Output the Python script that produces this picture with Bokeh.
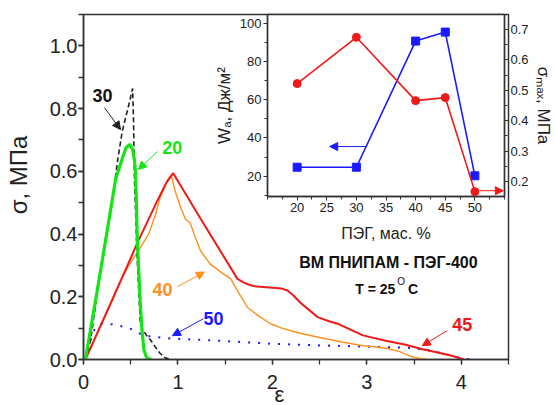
from bokeh.plotting import figure
from bokeh.models import (Range1d, LinearAxis, SingleIntervalTicker, FixedTicker, PrintfTickFormatter,
                          Label, Arrow, NormalHead, Column)
from bokeh.embed import file_html
from bokeh.resources import INLINE

FONT = "Liberation Sans"

# Stress-strain curves (strain, stress in MPa) for different PEG contents, wt. %
eps_20 = [0.02, 0.127, 0.233, 0.34, 0.41, 0.45, 0.49, 0.52, 0.54, 0.55, 0.56, 0.57, 0.6, 0.62, 0.64, 0.67, 0.72]
sig_20 = [0.0, 0.187, 0.378, 0.575, 0.64, 0.675, 0.686, 0.67, 0.635, 0.6, 0.5, 0.378, 0.187, 0.09, 0.03, 0.005, 0.0]

eps_30 = [0.02, 0.074, 0.21, 0.32, 0.36, 0.41, 0.47, 0.52, 0.53, 0.54, 0.555, 0.57, 0.6, 0.62, 0.66, 0.71, 0.76, 0.81, 0.86, 0.92]
sig_30 = [0.0, 0.06, 0.346, 0.536, 0.632, 0.727, 0.8, 0.864, 0.76, 0.57, 0.44, 0.314, 0.124, 0.1, 0.08, 0.062, 0.04, 0.02, 0.006, 0.0]

eps_40 = [0.02, 0.3, 0.39, 0.48, 0.58, 0.69, 0.76, 0.81, 0.86, 0.9, 0.93, 0.97, 1.03, 1.08, 1.13, 1.17,
          1.24, 1.34, 1.48, 1.56, 1.63, 1.74, 1.85, 1.98, 2.1, 2.26, 2.5, 2.75, 2.96, 3.1, 3.22, 3.35,
          3.46, 3.55, 3.64]
sig_40 = [0.0, 0.19, 0.25, 0.3, 0.346, 0.4, 0.46, 0.515, 0.55, 0.578, 0.586, 0.537, 0.483, 0.447, 0.435, 0.4,
          0.346, 0.305, 0.273, 0.257, 0.219, 0.165, 0.14, 0.114, 0.1, 0.086, 0.07, 0.055, 0.044, 0.04, 0.035, 0.025,
          0.01, 0.004, 0.0]

eps_45 = [0.02, 0.3, 0.58, 0.78, 0.88, 0.95, 1.24, 1.63, 1.7, 1.74, 1.8, 1.87, 2.0, 2.1, 2.16, 2.22, 2.3,
          2.4, 2.48, 2.6, 2.7, 2.96, 3.2, 3.4, 3.6, 3.75, 3.9, 4.03]
sig_45 = [0.0, 0.187, 0.378, 0.505, 0.565, 0.594, 0.449, 0.257, 0.245, 0.24, 0.234, 0.232, 0.229, 0.226, 0.22, 0.205, 0.18,
          0.155, 0.135, 0.122, 0.113, 0.077, 0.06, 0.048, 0.032, 0.022, 0.012, 0.0]

eps_50 = [0.02, 0.1, 0.18, 0.32, 0.5, 0.64, 0.92, 1.42, 2.0, 2.5, 3.04, 3.46, 3.65, 3.81, 3.95, 4.02, 4.13]
sig_50 = [0.0, 0.09, 0.114, 0.112, 0.098, 0.076, 0.067, 0.06, 0.05, 0.045, 0.041, 0.037, 0.03, 0.019, 0.008, 0.003, 0.0]

# Inset: work of adhesion and max stress vs PEG content
peg = [20, 30, 40, 45, 50]
wa = [24.7, 24.7, 90.6, 95.3, 20.2]
smax = [0.522, 0.674, 0.466, 0.476, 0.167]
peg_ticks = [20, 25, 30, 35, 40, 45, 50]

RED = "#f01818"
BLUE = "#1a1aff"
GREEN = "#14e614"
ORANGE = "#ff8f1f"
AXC = "#333333"

# ---------------- main plot ----------------
# The canvas is a little taller than the page; the page box below clips it to 405 px.
p = figure(width=555, height=420, x_range=Range1d(0, 4.5), y_range=Range1d(0, 1.1),
           output_backend="svg", toolbar_location=None, frame_align=False,
           min_border_left=83, min_border_right=47, min_border_top=14, min_border_bottom=61)
p.xgrid.visible = False
p.ygrid.visible = False
p.outline_line_color = AXC
p.outline_line_width = 1.5

p.xaxis.ticker = SingleIntervalTicker(interval=1, num_minor_ticks=2)
p.yaxis.ticker = SingleIntervalTicker(interval=0.2, num_minor_ticks=2)
p.yaxis.formatter = PrintfTickFormatter(format="%.1f")
for ax in (p.xaxis[0], p.yaxis[0]):
    ax.axis_line_color = AXC
    ax.axis_line_width = 1.5
    ax.major_tick_line_color = AXC
    ax.minor_tick_line_color = AXC
    ax.major_tick_line_width = 1.3
    ax.minor_tick_line_width = 1.3
    ax.major_tick_in = 0
    ax.major_tick_out = 5
    ax.minor_tick_in = 0
    ax.minor_tick_out = 5
    ax.major_label_text_font = FONT
    ax.major_label_text_font_size = "20px"
    ax.major_label_text_color = "#222222"
    ax.axis_label_text_font = FONT
    ax.axis_label_text_font_style = "normal"
    ax.axis_label_text_color = "#222222"
p.xaxis.major_label_standoff = 10
p.yaxis.major_label_standoff = 1
# trailing/leading fixed-width spaces nudge the centred titles off the frame centre
p.xaxis.axis_label = "ε\u2003\u2002"
p.xaxis.axis_label_text_font_size = "22px"
p.xaxis.axis_label_standoff = -10
p.yaxis.axis_label = "\u2003σ, МПа"
p.yaxis.axis_label_text_font_size = "24px"
p.yaxis.axis_label_standoff = 15

p.line(eps_50, sig_50, line_color=BLUE, line_width=2, line_dash="2 8")
p.line(eps_40, sig_40, line_color=ORANGE, line_width=1.4)
p.line(eps_45, sig_45, line_color=RED, line_width=2)
p.line(eps_30, sig_30, line_color="#222222", line_width=1.6, line_dash="5 3")
p.line(eps_20, sig_20, line_color=GREEN, line_width=3.2)


def note(fig, x, y, text, color, size="18px", style="bold", align="center", base="middle", **kw):
    fig.add_layout(Label(x=x, y=y, text=text, text_color=color, text_font=FONT,
                         text_font_size=size, text_font_style=style,
                         text_align=align, text_baseline=base, **kw))


def arrow(fig, x0, y0, x1, y1, color, **kw):
    fig.add_layout(Arrow(x_start=x0, y_start=y0, x_end=x1, y_end=y1, line_color=color,
                         line_width=1, end=NormalHead(size=8, fill_color=color, line_color=color),
                         **kw))


note(p, 0.20, 0.841, "30", "#111111")
arrow(p, 0.222, 0.803, 0.392, 0.733, "#222222")
note(p, 0.94, 0.676, "20", GREEN)
arrow(p, 0.783, 0.663, 0.582, 0.606, GREEN)
note(p, 0.836, 0.222, "40", ORANGE)
arrow(p, 0.995, 0.232, 1.28, 0.279, ORANGE)
note(p, 1.376, 0.130, "50", BLUE)
arrow(p, 1.27, 0.130, 0.942, 0.076, BLUE)
note(p, 4.01, 0.111, "45", RED)
arrow(p, 3.85, 0.092, 3.587, 0.044, RED)

note(p, 3.228, 0.308, "ВМ ПНИПАМ - ПЭГ-400", "#111111", size="16px")
note(p, 3.302, 0.225, "T = 25", "#111111", size="14px", align="right")
note(p, 3.323, 0.250, "O", "#111111", size="10px", style="normal", align="left")
note(p, 3.435, 0.225, "C", "#111111", size="14px", align="left")

# ---------------- inset ----------------
ins = figure(width=385, height=250, x_range=Range1d(15, 55), y_range=Range1d(9.4, 104.5),
             output_backend="svg", toolbar_location=None, frame_align=False,
             min_border_left=97, min_border_right=47, min_border_top=14, min_border_bottom=54)
ins.border_fill_alpha = 0
ins.background_fill_color = "white"
ins.xgrid.visible = False
ins.ygrid.visible = False
ins.outline_line_color = AXC
ins.outline_line_width = 1.5
ins.extra_y_ranges = {"smax": Range1d(0.151, 0.749)}
ins.add_layout(LinearAxis(y_range_name="smax"), "right")

ins.xaxis.ticker = FixedTicker(ticks=peg_ticks,
                               minor_ticks=[15 + 2.5 * i for i in range(17)])
ins.yaxis[0].ticker = SingleIntervalTicker(interval=20, num_minor_ticks=2)
ins.yaxis[1].ticker = SingleIntervalTicker(interval=0.1, num_minor_ticks=2)
ins.yaxis[1].formatter = PrintfTickFormatter(format="%.1f")
for ax in list(ins.xaxis) + list(ins.yaxis):
    ax.axis_line_color = AXC
    ax.axis_line_width = 1.3
    ax.major_tick_line_color = AXC
    ax.minor_tick_line_color = AXC
    ax.major_tick_in = 0
    ax.major_tick_out = 4
    ax.minor_tick_in = 0
    ax.minor_tick_out = 3
    ax.major_label_text_font = FONT
    ax.major_label_text_font_size = "13px"
    ax.major_label_text_color = "#222222"
    ax.major_label_standoff = 2
    ax.axis_label_text_font = FONT
    ax.axis_label_text_font_style = "normal"
    ax.axis_label_text_font_size = "16px"
    ax.axis_label_text_color = "#222222"
    ax.axis_label_standoff = 4
ins.xaxis.axis_label = "ПЭГ, мас. %"
ins.xaxis.axis_label_standoff = 10
ins.yaxis[0].axis_label = "Wₐ, Дж/м²"
ins.yaxis[0].axis_label_text_font_size = "17px"
ins.yaxis[0].axis_label_standoff = 3
ins.yaxis[1].axis_label = "σₘₐₓ, МПа"
ins.yaxis[1].axis_label_text_font_size = "17px"
ins.yaxis[1].axis_label_standoff = 2

ins.line(peg, wa, line_color=BLUE, line_width=1.6)
ins.scatter(peg, wa, marker="square", size=8, fill_color=BLUE, line_color=BLUE)
ins.line(peg, smax, line_color=RED, line_width=1.6, y_range_name="smax")
ins.scatter(peg, smax, marker="circle", size=8, fill_color=RED, line_color=RED, y_range_name="smax")

arrow(ins, 31.6, 35.5, 25.5, 35.5, BLUE)
arrow(ins, 50.8, 0.170, 54.8, 0.170, RED, y_range_name="smax")

p.styles = {"flex-shrink": "0", "min-height": "420px"}
ins.styles = {"position": "absolute", "left": "170px", "top": "0px"}

layout = Column(children=[p, ins])
layout.styles = {"position": "relative", "height": "405px", "overflow": "hidden"}
open("out.html", "w").write(file_html(layout, INLINE))
